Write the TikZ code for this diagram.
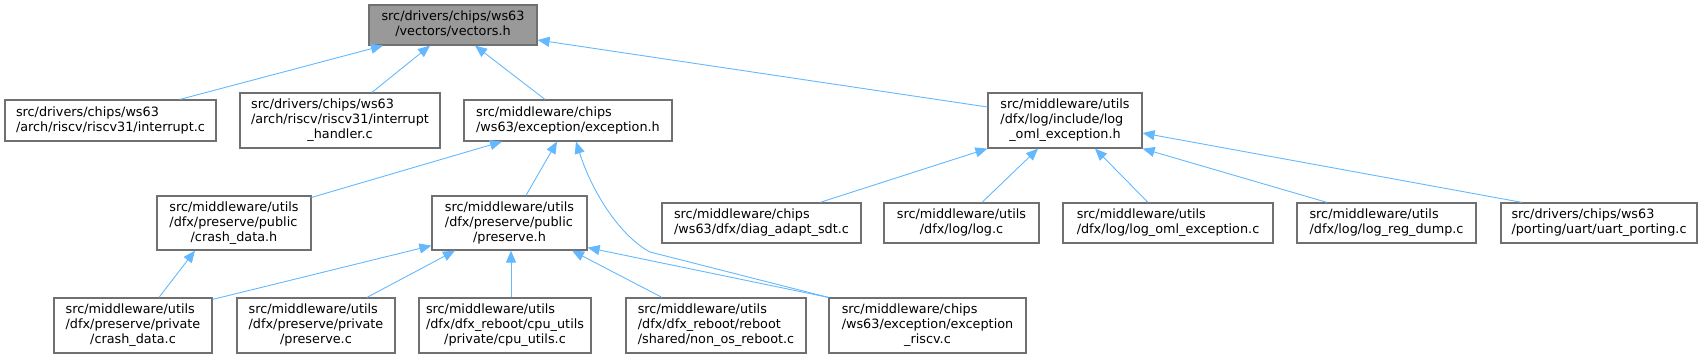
\documentclass[tikz,border=0pt]{standalone}
\usepackage{fontspec}
\setmainfont{DejaVu Sans}
\usetikzlibrary{arrows.meta}
\definecolor{edgec}{HTML}{63B8FF}
\definecolor{bordc}{HTML}{707070}
\definecolor{rootc}{HTML}{999999}
\newcommand{\twol}[2]{\begin{tabular}{@{}l@{}}#1\\\multicolumn{1}{@{}c@{}}{#2}\end{tabular}}
\newcommand{\threel}[3]{\begin{tabular}{@{}l@{}}#1\\#2\\\multicolumn{1}{@{}c@{}}{#3}\end{tabular}}
\begin{document}
\begin{tikzpicture}[x=1pt,y=-1pt,
  box/.style={draw=bordc, line width=1.2pt, fill=white, inner sep=0pt, text=black,
    font=\fontsize{12.8}{15}\selectfont},
  root/.style={box, fill=rootc},
  edge/.style={draw=edgec, line width=0.9pt, -{Triangle[length=12pt,width=10pt]}}]
\useasboundingbox (0,0) rectangle (1702,359);
% row 1
\node[root, minimum width=168pt, minimum height=40pt] (vec) at (453,25) {\twol{src/drivers/chips/ws63}{/vectors/vectors.h}};
% row 2
\node[box, minimum width=211pt, minimum height=41pt] (intc) at (110.5,120.5) {\twol{src/drivers/chips/ws63}{/arch/riscv/riscv31/interrupt.c}};
\node[box, minimum width=200pt, minimum height=55pt] (inth) at (340,120.5) {\threel{src/drivers/chips/ws63}{/arch/riscv/riscv31/interrupt}{\_handler.c}};
\node[box, minimum width=208pt, minimum height=41pt] (exch) at (568,120.5) {\twol{src/middleware/chips}{/ws63/exception/exception.h}};
\node[box, minimum width=154pt, minimum height=55pt] (logh) at (1065,120.5) {\threel{src/middleware/utils}{/dfx/log/include/log}{\_oml\_exception.h}};
% row 3
\node[box, minimum width=154pt, minimum height=54pt] (crashh) at (234,223) {\threel{src/middleware/utils}{/dfx/preserve/public}{/crash\_data.h}};
\node[box, minimum width=155pt, minimum height=54pt] (presh) at (509.5,223) {\threel{src/middleware/utils}{/dfx/preserve/public}{/preserve.h}};
\node[box, minimum width=199pt, minimum height=40pt] (diag) at (761.5,223) {\twol{src/middleware/chips}{/ws63/dfx/diag\_adapt\_sdt.c}};
\node[box, minimum width=155pt, minimum height=40pt] (logc) at (961.5,223) {\twol{src/middleware/utils}{/dfx/log/log.c}};
\node[box, minimum width=210pt, minimum height=40pt] (logoc) at (1168,223) {\twol{src/middleware/utils}{/dfx/log/log\_oml\_exception.c}};
\node[box, minimum width=179pt, minimum height=40pt] (regdump) at (1386.5,223) {\twol{src/middleware/utils}{/dfx/log/log\_reg\_dump.c}};
\node[box, minimum width=196pt, minimum height=40pt] (uart) at (1599,223) {\twol{src/drivers/chips/ws63}{/porting/uart/uart\_porting.c}};
% row 4
\node[box, minimum width=158pt, minimum height=55pt] (crashc) at (133,325.5) {\threel{src/middleware/utils}{/dfx/preserve/private}{/crash\_data.c}};
\node[box, minimum width=158pt, minimum height=55pt] (presc) at (316,325.5) {\threel{src/middleware/utils}{/dfx/preserve/private}{/preserve.c}};
\node[box, minimum width=172pt, minimum height=55pt] (cpuc) at (505,325.5) {\threel{src/middleware/utils}{/dfx/dfx\_reboot/cpu\_utils}{/private/cpu\_utils.c}};
\node[box, minimum width=180pt, minimum height=55pt] (nonos) at (716,325.5) {\threel{src/middleware/utils}{/dfx/dfx\_reboot/reboot}{/shared/non\_os\_reboot.c}};
\node[box, minimum width=197pt, minimum height=55pt] (excr) at (927.5,325.5) {\threel{src/middleware/chips}{/ws63/exception/exception}{\_riscv.c}};
\coordinate (bend) at (650,252);
% edges
\draw[edge] ([xshift=69.5pt]intc.north) -- ([xshift=-70pt]vec.south);
\draw[edge] ([xshift=32pt]inth.north) -- ([xshift=-23pt]vec.south);
\draw[edge] ([xshift=-23pt]exch.north) -- ([xshift=22pt]vec.south);
\draw[edge] ([yshift=13.5pt]logh.west) -- ([yshift=-15pt]vec.east);
\draw[edge] ([yshift=-2pt]crashh.north east) -- ([xshift=-66pt]exch.south);
\draw[edge] ([xshift=16.5pt]presh.north) -- ([xshift=-11pt]exch.south);
\draw[edge] (excr.north west) -- (bend) .. controls (620,236) and (592,192) .. ([xshift=8pt]exch.south);
\draw[edge] ([xshift=26pt]crashc.north) -- ([xshift=-39pt]crashh.south);
\draw[edge] ([yshift=-2pt]crashc.north east) -- ([yshift=5pt]presh.south west);
\draw[edge] ([xshift=51pt]presc.north) -- ([xshift=-54.5pt]presh.south);
\draw[edge] ([xshift=6pt]cpuc.north) -- ([xshift=1.5pt]presh.south);
\draw[edge] ([xshift=-54pt]nonos.north) -- ([xshift=62.5pt]presh.south);
\draw[edge] (excr.north west) -- ([yshift=3pt]presh.south east);
\draw[edge] ([xshift=58.5pt]diag.north) -- (logh.south west);
\draw[edge] ([xshift=20.5pt]logc.north) -- ([xshift=-27pt]logh.south);
\draw[edge] ([xshift=-20pt]logoc.north) -- ([xshift=30pt]logh.south);
\draw[edge] ([xshift=-59.5pt]regdump.north) -- (logh.south east);
\draw[edge] ([xshift=-77pt]uart.north) -- ([yshift=-12.5pt]logh.east);
\end{tikzpicture}
\end{document}
